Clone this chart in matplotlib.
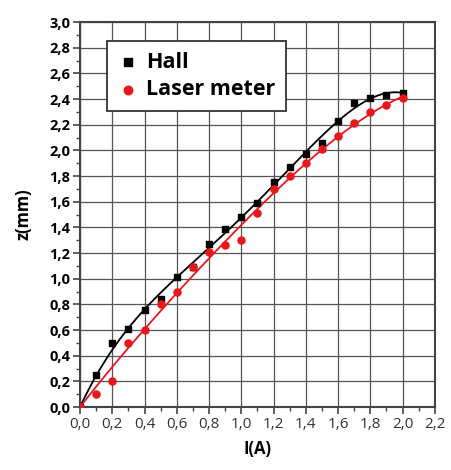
import numpy as np
import matplotlib
matplotlib.use("Agg")
import matplotlib.pyplot as plt
from matplotlib.ticker import MultipleLocator, FuncFormatter

current = [0.0, 0.1, 0.2, 0.3, 0.4, 0.5, 0.6, 0.7, 0.8, 0.9, 1.0,
           1.1, 1.2, 1.3, 1.4, 1.5, 1.6, 1.7, 1.8, 1.9, 2.0]
hall = [0.0, 0.25, 0.50, 0.61, 0.76, 0.84, 1.01, 1.09, 1.27, 1.39, 1.48,
        1.59, 1.75, 1.87, 1.97, 2.06, 2.23, 2.37, 2.41, 2.43, 2.45]
laser = [0.0, 0.10, 0.20, 0.50, 0.60, 0.80, 0.90, 1.09, 1.21, 1.26, 1.30,
         1.51, 1.70, 1.80, 1.90, 2.01, 2.11, 2.21, 2.30, 2.35, 2.41]

plt.rcParams['font.family'] = ['Open Sans', 'DejaVu Sans']

fig = plt.figure(figsize=(4.52, 4.70), dpi=100)
ax = fig.add_axes([0.177, 0.134, 0.785, 0.819])

# smooth fit curves, pinned at the origin
x = np.array(current)
xs = np.linspace(0, 2.0, 200)
w = np.ones_like(x)
w[0] = 20
for y, c in ((hall, 'black'), (laser, '#e8171b')):
    p = np.polyfit(x, y, 4, w=w)
    ax.plot(xs, np.polyval(p, xs), color=c, lw=1.3, zorder=3)

ax.scatter(current, hall, marker='s', s=20, color='black', zorder=4, label='Hall')
ax.scatter(current, laser, marker='o', s=26, color='#e8171b', zorder=4, label='Laser meter')

ax.set_xlim(0, 2.2)
ax.set_ylim(0, 3.0)
ax.xaxis.set_major_locator(MultipleLocator(0.2))
ax.xaxis.set_minor_locator(MultipleLocator(0.1))
ax.yaxis.set_major_locator(MultipleLocator(0.2))
ax.yaxis.set_minor_locator(MultipleLocator(0.1))
fmt = FuncFormatter(lambda v, pos: f"{v:.1f}".replace('.', ','))
ax.xaxis.set_major_formatter(fmt)
ax.yaxis.set_major_formatter(fmt)

ax.grid(True, which='major', color='#555555', lw=0.9)
ax.set_axisbelow(True)
ax.tick_params(which='major', direction='out', length=5, width=1.2, color='#444444')
ax.tick_params(which='minor', direction='out', length=3, width=1.0, color='#444444')
ax.tick_params(axis='x', labelsize=11, pad=2, labelcolor='#333333')
ax.tick_params(axis='y', labelsize=10.5, pad=2)
for lab in ax.get_yticklabels():
    lab.set_fontweight('bold')
for sp in ax.spines.values():
    sp.set_color('#444444')
    sp.set_linewidth(1.5)

ax.set_xlabel('I(A)', fontsize=12, fontweight='bold', labelpad=6)
ax.set_ylabel('z(mm)', fontsize=12, fontweight='bold', labelpad=12)

leg = ax.legend(loc='upper left', bbox_to_anchor=(0.076, 0.951), borderaxespad=0,
                frameon=True, fancybox=False, edgecolor='#333333', framealpha=1,
                prop={'size': 15.5, 'weight': 'bold'}, handletextpad=0.3,
                borderpad=0.5, labelspacing=0.3, handlelength=1.0,
                markerscale=1.2)
leg.get_frame().set_linewidth(1.3)

fig.savefig('out.png', dpi=100)
